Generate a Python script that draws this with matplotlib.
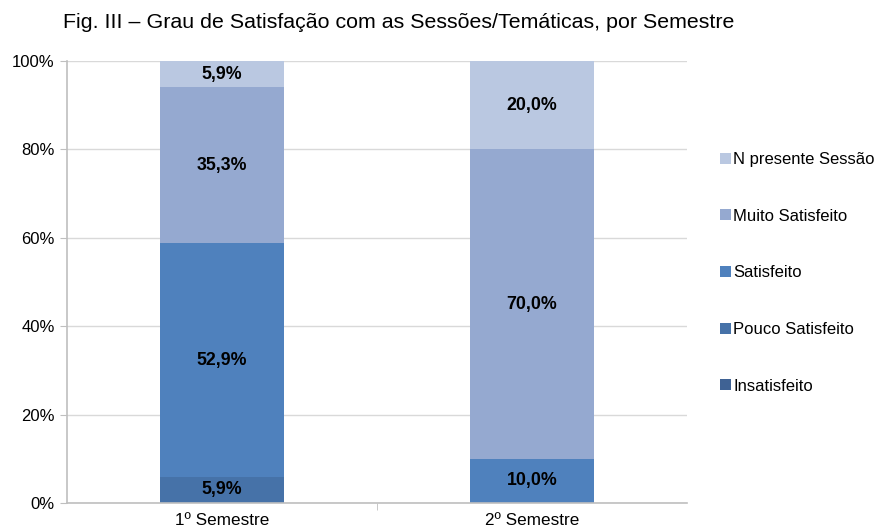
import matplotlib
matplotlib.use('Agg')
import matplotlib.pyplot as plt
import numpy as np

semestres = ["1º Semestre", "2º Semestre"]
categorias = ["Insatisfeito", "Pouco Satisfeito", "Satisfeito", "Muito Satisfeito", "N presente Sessão"]
insatisfeito = [0.0, 0.0]
pouco_satisfeito = [5.9, 0.0]
satisfeito = [52.9, 10.0]
muito_satisfeito = [35.3, 70.0]
n_presente = [5.9, 20.0]
cores = ["#3F6294", "#4672A8", "#4F81BD", "#95A9D0", "#BAC8E1"]

plt.rcParams['font.family'] = ['Liberation Sans', 'DejaVu Sans']

fig = plt.figure(figsize=(8.82, 5.3), dpi=100)
ax = fig.add_axes([67 / 882, 1 - 503 / 530, 620 / 882, 442 / 530])

x = np.arange(len(semestres))
series = [insatisfeito, pouco_satisfeito, satisfeito, muito_satisfeito, n_presente]
bottom = np.zeros(len(semestres))
handles = []
for nome, vals, cor in zip(categorias, series, cores):
    vals = np.array(vals)
    b = ax.bar(x, vals, width=0.4, bottom=bottom, color=cor, label=nome, zorder=2)
    handles.append(b)
    for xi, v, bt in zip(x, vals, bottom):
        if v > 0:
            ax.text(xi, bt + v / 2, f"{v:.1f}%".replace('.', ','), ha='center', va='center',
                    fontsize=12.8, fontweight='bold', color='black', zorder=3)
    bottom += vals

ax.set_xlim(-0.5, 1.5)
ax.set_ylim(0, 100)
ax.set_yticks([0, 20, 40, 60, 80, 100])
ax.set_yticklabels([f"{t}%" for t in [0, 20, 40, 60, 80, 100]], fontsize=12)
ax.set_xticks(x)
ax.set_xticklabels(semestres, fontsize=12.3)
ax.tick_params(axis='x', length=0, pad=7)
ax.set_xticks([0.5], minor=True)
ax.tick_params(axis='x', which='minor', length=5, color='#BFBFBF')
ax.tick_params(axis='y', length=5, color='#BFBFBF', pad=4)
ax.grid(axis='y', color='#D9D9D9', linewidth=1, zorder=0)
ax.set_axisbelow(True)
for s in ['top', 'right']:
    ax.spines[s].set_visible(False)
for s in ['left', 'bottom']:
    ax.spines[s].set_color('#BFBFBF')
    ax.spines[s].set_linewidth(1.2)

fig.text(399 / 882, 1 - 22 / 530, "Fig. III – Grau de Satisfação com as Sessões/Temáticas, por Semestre",
         ha='center', va='center', fontsize=15.4)

leg = fig.legend(handles[::-1], categorias[::-1], loc='upper left', bbox_to_anchor=(705 / 882, 1 - 137 / 530),
                 frameon=False, fontsize=12, handlelength=0.65, handleheight=0.65, handletextpad=0.15,
                 labelspacing=2.5)

plt.savefig("out.png", dpi=100)
plt.close(fig)
